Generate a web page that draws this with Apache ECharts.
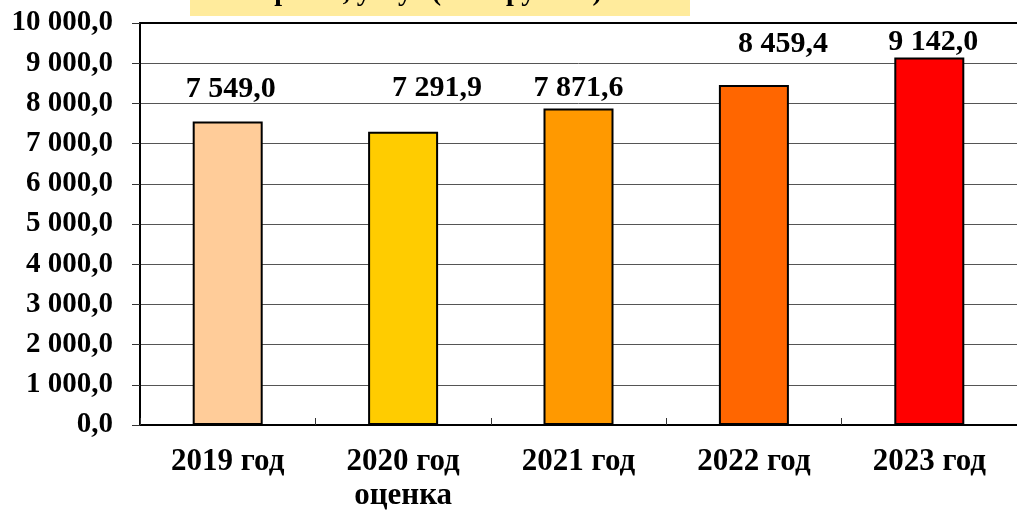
<!DOCTYPE html>
<html>
<head>
<meta charset="utf-8">
<script src="https://cdn.jsdelivr.net/npm/echarts@6/dist/echarts.min.js"></script>
<style>
html,body{margin:0;padding:0;background:#fff;}
#c{width:1017px;height:513px;}
</style>
</head>
<body>
<div id="c"></div>
<script>
const categories = ['2019 год', '2020 год\nоценка', '2021 год', '2022 год', '2023 год'];
const values = [7549.0, 7291.9, 7871.6, 8459.4, 9142.0];
const barColors = ['#FFCC99', '#FFCC00', '#FF9900', '#FF6600', '#FF0000'];
const yTicks = { min: 0, max: 10000, interval: 1000 };
const titleText = 'работ, услуг (млн. рублей)';
// manual label nudges (as in the source chart)
const labelNudges = [[3, -17], [34, -29], [0, -5], [29, -26], [4, 0]];

function fmt(v) {
  const parts = v.toFixed(1).split('.');
  const intPart = parts[0].replace(/\B(?=(\d{3})+(?!\d))/g, ' ');
  return intPart + ',' + parts[1];
}

const font = '"Liberation Serif", "Times New Roman", serif';
const chart = echarts.init(document.getElementById('c'));
chart.setOption({
  animation: false,
  backgroundColor: '#ffffff',
  grid: { left: 140, right: 0, top: 23, bottom: 82, containLabel: false },
  graphic: [
    { type: 'rect', left: 190, top: 0, shape: { width: 500, height: 16 }, style: { fill: '#FFEB9C' }, z: 1 },
    { type: 'text', x: 438, y: -7, style: { text: titleText, fontFamily: font, fontWeight: 'bold', fontSize: 28, fill: '#000', align: 'center', verticalAlign: 'middle' }, z: 2 }
  ],
  xAxis: [{
    type: 'category',
    data: categories,
    axisLine: { lineStyle: { color: '#000', width: 2 } },
    axisTick: { show: true, inside: true, length: 7, lineStyle: { color: '#333', width: 1 } },
    axisLabel: { fontFamily: font, fontWeight: 'bold', fontSize: 31, color: '#000', margin: 20, lineHeight: 34 }
  }, {
    type: 'category',
    position: 'top',
    data: categories,
    axisLine: { show: true, lineStyle: { color: '#000', width: 2 } },
    axisTick: { show: false },
    axisLabel: { show: false }
  }],
  yAxis: {
    type: 'value',
    min: yTicks.min, max: yTicks.max, interval: yTicks.interval,
    axisLine: { show: true, lineStyle: { color: '#000', width: 2 } },
    axisTick: { show: true, length: 8, lineStyle: { color: '#333', width: 1 } },
    splitLine: { show: true, lineStyle: { color: '#555', width: 1 } },
    axisLabel: { fontFamily: font, fontWeight: 'bold', fontSize: 29, color: '#000', margin: 27, formatter: fmt }
  },
  series: [{
    type: 'bar',
    barWidth: 70,
    data: values.map((v, i) => ({
      value: v,
      itemStyle: { color: barColors[i], borderColor: '#000', borderWidth: 2 },
      label: { offset: labelNudges[i] }
    })),
    label: {
      show: true, position: 'top', distance: 0,
      fontFamily: font, fontWeight: 'bold', fontSize: 30, color: '#000',
      formatter: p => fmt(p.value)
    }
  }]
});
</script>
</body>
</html>
